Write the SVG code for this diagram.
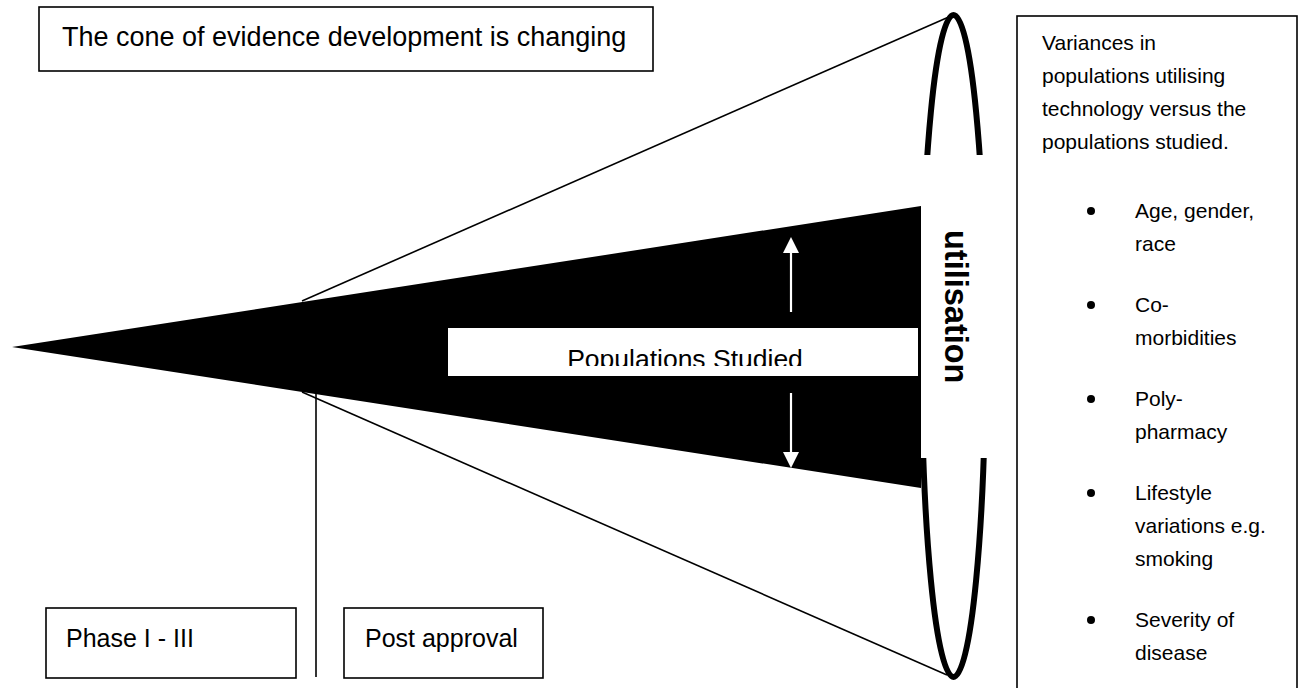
<svg xmlns="http://www.w3.org/2000/svg" width="1304" height="688" viewBox="0 0 1304 688">
<style>
.box{fill:#fff;stroke:#000;stroke-width:1.6}
.t{font-family:"Liberation Sans",Arial,sans-serif;fill:#000}
.thin{stroke:#000;stroke-width:1.6;fill:none}
.warr{stroke:#fff;stroke-width:2.2;fill:none}
</style>
<defs>
<clipPath id="popclip"><rect x="448" y="328" width="470" height="38"/></clipPath>
</defs>
<rect width="1304" height="688" fill="#fff"/>

<g id="connectors">
<line class="thin" x1="302" y1="301" x2="951" y2="16"/>
<line class="thin" x1="302" y1="392" x2="947" y2="675"/>
<line class="thin" x1="316" y1="393" x2="316" y2="677"/>
</g>

<g id="cone">
<polygon points="12,347 921,206 921,488" fill="#000"/>
</g>

<g id="utilisation-ellipse">
<ellipse cx="953.5" cy="346" rx="32" ry="331" fill="none" stroke="#000" stroke-width="6"/>
<rect x="921" y="155" width="72" height="303" fill="#fff"/>
<text class="t" transform="translate(945,230) rotate(90)" font-size="32.5" font-weight="bold">utilisation</text>
</g>

<g id="populations-studied">
<rect x="448" y="328" width="470" height="48" fill="#fff"/>
<text class="t" x="685" y="368" font-size="26.5" text-anchor="middle" clip-path="url(#popclip)">Populations Studied</text>
</g>

<g id="arrows">
<line class="warr" x1="791" y1="312" x2="791" y2="252"/>
<polygon points="783,253 799,253 791,237" fill="#fff"/>
<line class="warr" x1="791" y1="393" x2="791" y2="453"/>
<polygon points="783,452 799,452 791,468" fill="#fff"/>
</g>

<g id="title">
<rect class="box" x="39" y="7" width="614" height="64"/>
<text class="t" x="62" y="46" font-size="27">The cone of evidence development is changing</text>
</g>

<g id="phase">
<rect class="box" x="46" y="608" width="250" height="70"/>
<text class="t" x="66" y="647" font-size="25">Phase I - III</text>
</g>

<g id="post-approval">
<rect class="box" x="344" y="608" width="199" height="70"/>
<text class="t" x="365" y="647" font-size="25">Post approval</text>
</g>

<g id="variances">
<rect class="box" x="1017" y="16" width="280" height="690"/>
<g class="t" font-size="21">
<text x="1042" y="50">Variances in</text>
<text x="1042" y="83">populations utilising</text>
<text x="1042" y="116">technology versus the</text>
<text x="1042" y="149">populations studied.</text>
<text x="1135" y="218">Age, gender,</text>
<text x="1135" y="251">race</text>
<text x="1135" y="312">Co-</text>
<text x="1135" y="345">morbidities</text>
<text x="1135" y="406">Poly-</text>
<text x="1135" y="439">pharmacy</text>
<text x="1135" y="500">Lifestyle</text>
<text x="1135" y="533">variations e.g.</text>
<text x="1135" y="566">smoking</text>
<text x="1135" y="627">Severity of</text>
<text x="1135" y="660">disease</text>
</g>
<g fill="#000">
<circle cx="1091" cy="211" r="4"/>
<circle cx="1091" cy="305" r="4"/>
<circle cx="1091" cy="399" r="4"/>
<circle cx="1091" cy="493" r="4"/>
<circle cx="1091" cy="620" r="4"/>
</g>
</g>
</svg>
